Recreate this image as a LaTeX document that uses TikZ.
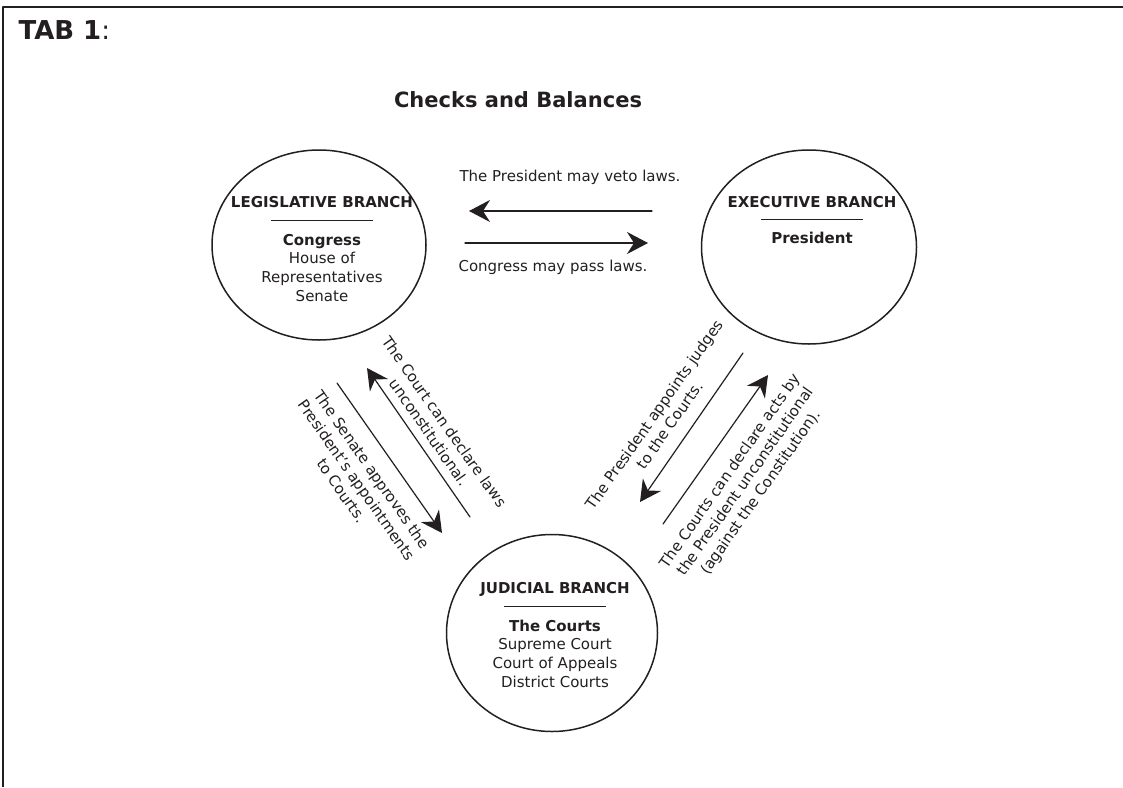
\documentclass[tikz,border=0pt]{standalone}
\usepackage{fontspec}
\setmainfont{DejaVu Sans}
\usepackage{tikz}
\usetikzlibrary{arrows.meta,shapes.geometric}
\definecolor{inkgray}{RGB}{35,31,32}

\begin{document}
\begin{tikzpicture}[line cap=round,line join=round,>={Stealth[length=21pt,width=22pt,inset=7pt]},x=1pt,y=-1pt,
	branch/.style={draw=inkgray,line width=1.5pt,ellipse,inner sep=0pt},
	brtext/.style={align=center,text=inkgray,font=\fontsize{15}{18.8}\selectfont},
	note/.style={align=center,text=inkgray,font=\fontsize{15}{18.6}\selectfont},
	check/.style={->,draw=inkgray,line width=1.2pt}]
	
	\useasboundingbox (0,0) rectangle (1123,787);
	
	\draw[inkgray,line width=1.6pt,line cap=butt] (1123,7) -- (3,7) -- (3,787);
	
	\node[anchor=base west,text=inkgray,font=\fontsize{26}{30}\selectfont] (tab) at (15,39) {\textbf{TAB 1}:};
	
	\node[text=inkgray,font=\fontsize{21}{24}\selectfont\bfseries] (title) at (518,100) {Checks and Balances};
	
	% the three branches
	\node[branch,minimum width=214pt,minimum height=190pt] (leg) at (319,245) {};
	\node[branch,minimum width=215pt,minimum height=194pt] (exe) at (809,247) {};
	\node[branch,minimum width=211pt,minimum height=197pt] (jud) at (552,633) {};
	
	\node[brtext] (legtext) at (322,249) {\textbf{LEGISLATIVE BRANCH}\\ \rule[5pt]{102pt}{1.2pt}\\ \textbf{Congress}\\ House of\\ Representatives\\ Senate};
	
	\node[brtext,font=\fontsize{15}{18}\selectfont] (exetext) at (812,220) {\textbf{EXECUTIVE BRANCH}\\ \rule[5pt]{102pt}{1.2pt}\\ \textbf{President}};
	
	\node[brtext] (judtext) at (555,635) {\textbf{JUDICIAL BRANCH}\\ \rule[5pt]{102pt}{1.2pt}\\ \textbf{The Courts}\\ Supreme Court\\ Court of Appeals\\ District Courts};
	
	% ends of the checks
	\coordinate (vetoA) at (652,211);
	\coordinate (vetoB) at (469,211);
	\coordinate (passA) at (465,243);
	\coordinate (passB) at (648,243);
	\coordinate (lawsA) at (470,517);
	\coordinate (lawsB) at (367,368);
	\coordinate (senA) at (337,383);
	\coordinate (senB) at (442,533);
	\coordinate (judgA) at (743,353);
	\coordinate (judgB) at (640,502);
	\coordinate (actsA) at (663,524);
	\coordinate (actsB) at (768,375);
	
	\draw[check] (vetoA) -- (vetoB);
	\draw[check] (passA) -- (passB);
	\draw[check] (lawsA) -- (lawsB);
	\draw[check] (senA) -- (senB);
	\draw[check] (judgA) -- (judgB);
	\draw[check] (actsA) -- (actsB);
	
	\node[note] (veto) at (570,177) {The President may veto laws.};
	\node[note] (pass) at (553,267) {Congress may pass laws.};
	\node[note,rotate=-55] (laws) at (437,427) {The Court can declare laws\\unconstitutional.};
	\node[note,rotate=-55] (senate) at (357,480) {The Senate approves the\\President's appointments\\to Courts.};
	\node[note,rotate=55] (judges) at (662,420) {The President appoints judges\\to the Courts.};
	\node[note,rotate=55] (acts) at (746,482) {The Courts can declare acts by\\the President unconstitutional\\(against the Constitution).};
\end{tikzpicture}
\end{document}
